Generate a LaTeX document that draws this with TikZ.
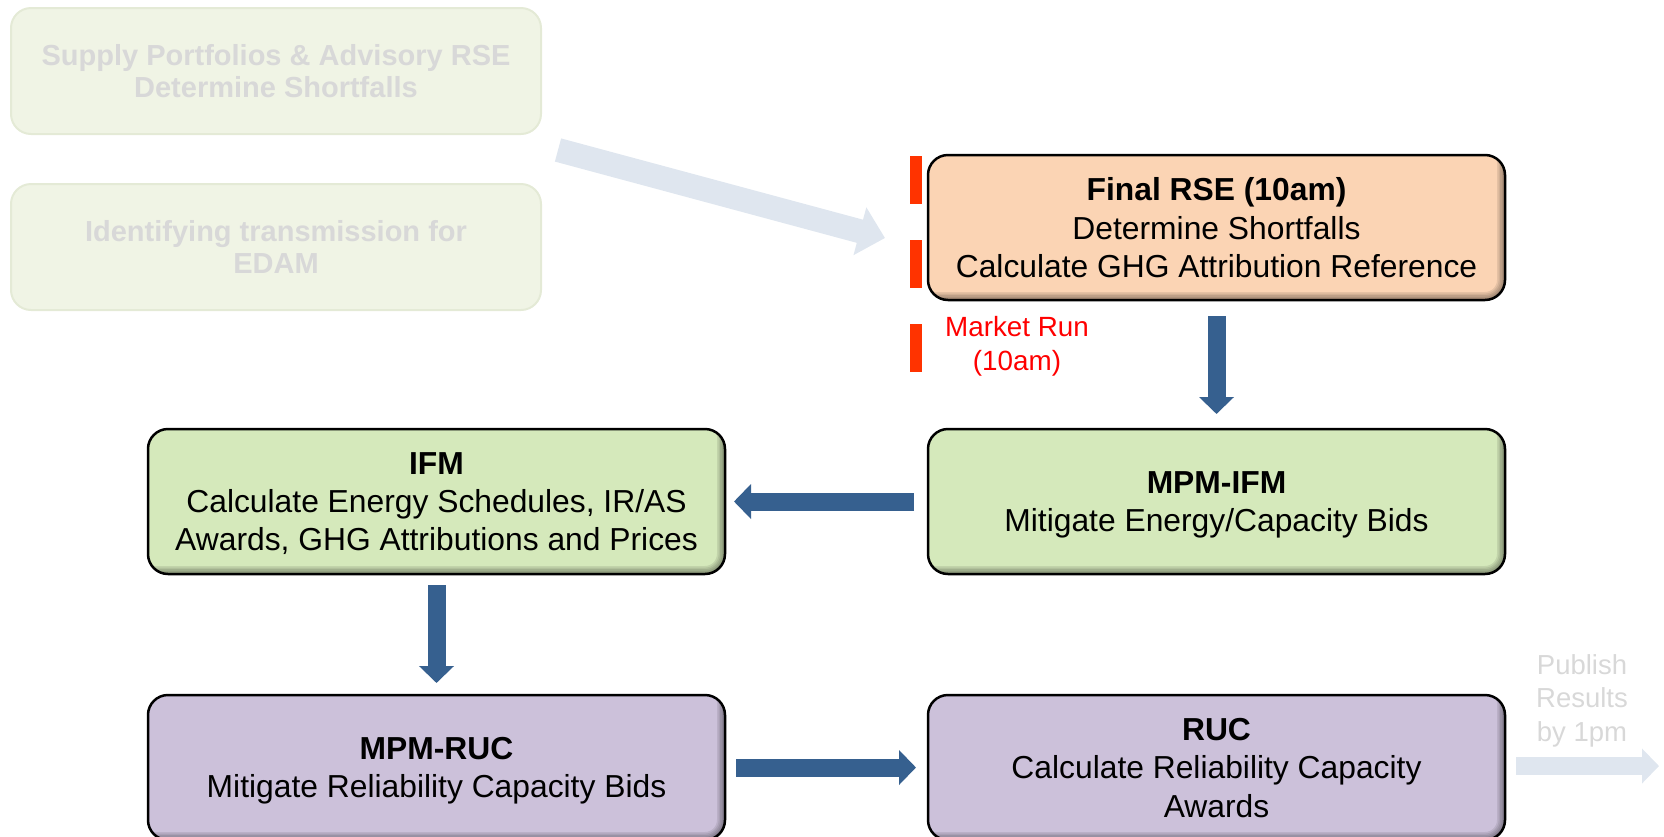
\documentclass[tikz,border=0pt]{standalone}
\usepackage{fontspec}
\setmainfont{Liberation Sans}
\usetikzlibrary{arrows.meta,positioning}

\definecolor{rsefill}{HTML}{FBD4B4}
\definecolor{ifmfill}{HTML}{D5E9BB}
\definecolor{rucfill}{HTML}{CCC1DA}
\definecolor{arrowblue}{HTML}{36608F}
\definecolor{fadearrow}{HTML}{DFE6EF}
\definecolor{fadefill}{HTML}{F0F4E5}
\definecolor{fadeline}{HTML}{E4EAD6}
\definecolor{fadetext}{HTML}{D8D8D8}
\definecolor{barred}{HTML}{FF3300}

\begin{document}
\begin{tikzpicture}[
  x=0.5pt, y=-0.5pt,
  box/.style={draw=black, line width=1.25pt, rounded corners=10pt, align=center,
    minimum width=288.5pt, minimum height=72.5pt, outer sep=0pt, inner sep=0pt,
    font=\fontsize{15.9pt}{19.2pt}\selectfont, text depth=-0.8pt,
    path picture={
      \foreach \w in {1.6,3.2,4.8,6.4,8}
        \draw[black, opacity=0.085, line width=\w pt]
          (path picture bounding box.south west) -- (path picture bounding box.south east)
          -- (path picture bounding box.north east);
    }},
  fadebox/.style={draw=fadeline, fill=fadefill, line width=1pt, rounded corners=10pt,
    align=center, minimum width=265pt, minimum height=63pt, outer sep=0pt,
    text=fadetext, font=\fontsize{14.5pt}{16pt}\selectfont\bfseries, text depth=0pt},
  arr/.style={-{Triangle[width=17pt,length=8.5pt]}, line width=9pt, draw=arrowblue},
  fadearr/.style={-{Triangle[width=17pt,length=8.5pt]}, line width=9pt, draw=fadearrow},
  note/.style={align=center, font=\fontsize{13.9pt}{17pt}\selectfont, text depth=3pt}
]
\useasboundingbox (0,0) rectangle (1664,836);

% faded steps before the final run
\node[fadebox] (supply) at (276,71) {Supply Portfolios \& Advisory RSE\\Determine Shortfalls};
\node[fadebox, below=25pt of supply] (identify) {Identifying transmission for\\EDAM};
\coordinate (fadetail) at (558,150);
\coordinate (fadetip) at (885,238);
\draw[-{Triangle[width=24pt,length=13pt]}, line width=12pt, draw=fadearrow] (fadetail) -- (fadetip);

% market run boxes
\node[box, fill=rsefill] (rse) at (1216.5,227.5) {\textbf{Final RSE (10am)}\\Determine Shortfalls\\Calculate GHG Attribution Reference};
\node[box, fill=ifmfill, below=64.5pt of rse] (mpmifm) {\textbf{MPM-IFM}\\Mitigate Energy/Capacity Bids};
\node[box, fill=ifmfill, left=101.5pt of mpmifm] (ifm) {\textbf{IFM}\\Calculate Energy Schedules, IR/AS\\Awards, GHG Attributions and Prices};
\node[box, fill=rucfill, below=60.5pt of ifm] (mpmruc) {\textbf{MPM-RUC}\\Mitigate Reliability Capacity Bids};
\node[box, fill=rucfill, right=101.5pt of mpmruc] (ruc) {\textbf{RUC}\\Calculate Reliability Capacity\\Awards};

\draw[arr, shorten <=8pt, shorten >=7.5pt] (rse) -- (mpmifm);
\draw[arr, shorten <=7pt, shorten >=4.5pt] (mpmifm) -- (ifm);
\draw[arr, shorten <=5.5pt, shorten >=6pt] (ifm) -- (mpmruc);
\draw[arr, shorten <=5.5pt, shorten >=6pt] (mpmruc) -- (ruc);

% market run marker
\foreach \y in {156,240,324}
  \fill[barred] (910,\y) rectangle (922,\y+47.5);
\node[note, text=red] (marketrun) at (1017,346) {Market Run\\(10am)};

% publish
\node[note, text=fadetext, font=\fontsize{13.75pt}{16.8pt}\selectfont] (publish) at (1582,701) {Publish\\Results\\by 1pm};
\coordinate (pubout) at (1659,766);
\draw[fadearr, shorten <=5.5pt] (ruc.east |- pubout) -- (pubout);

\end{tikzpicture}
\end{document}
